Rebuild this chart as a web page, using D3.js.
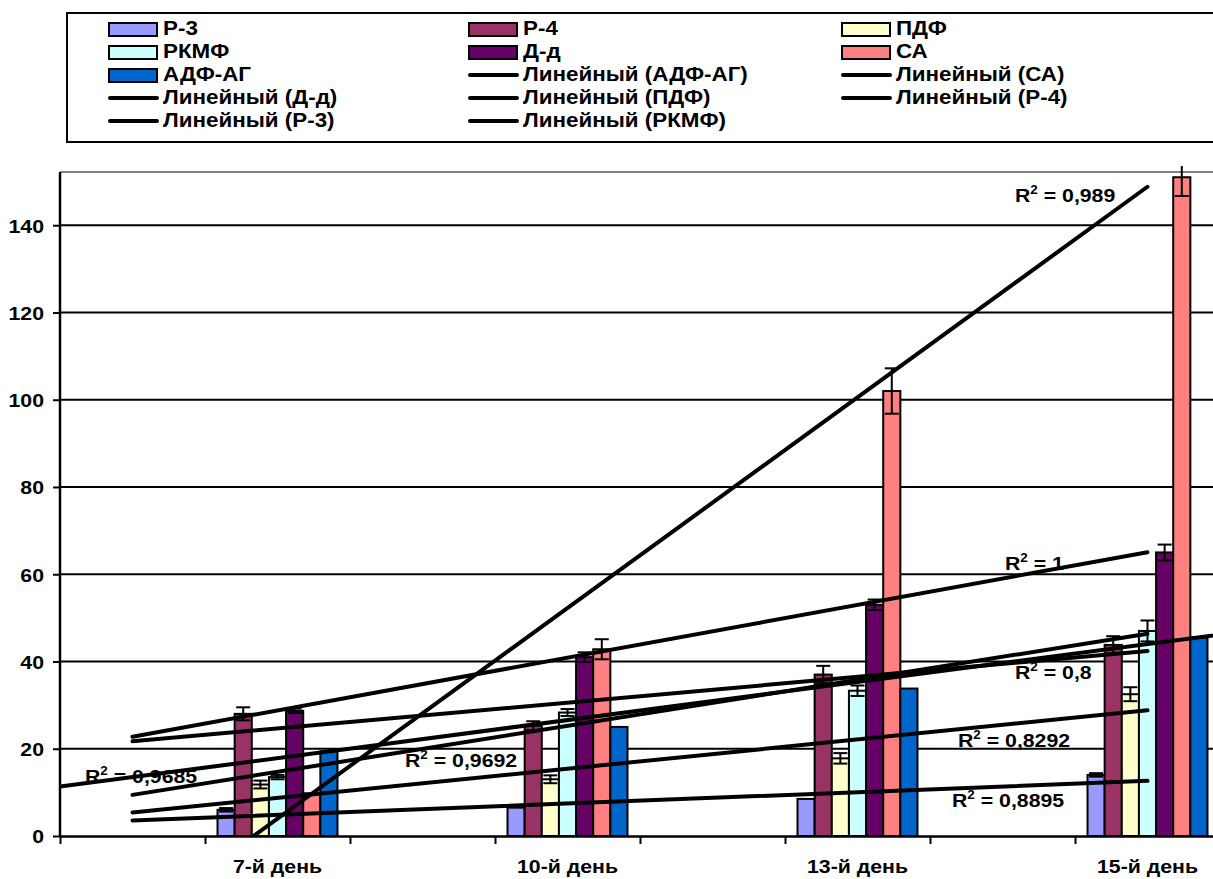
<!DOCTYPE html>
<html>
<head>
<meta charset="utf-8">
<script src="https://d3js.org/d3.v7.min.js"></script>
<style>
    body { margin: 0; background: #fff; }
    #chart-area { width: 1213px; height: 879px; }
    text { font-family: "Liberation Sans", Arial, sans-serif; font-weight: bold; fill: #000; }
</style>
</head>
<body>
<div id="chart-area"></div>
<script>

// categories on the x axis (blank categories sit between them)
let categories = ["7-й день", "10-й день", "13-й день", "15-й день"];
let catIndex = [2, 4, 6, 8];

// series names and colours
let seriesNames = ["Р-3", "Р-4", "ПДФ", "РКМФ", "Д-д", "СА", "АДФ-АГ"];
let seriesColors = ["#9999FF", "#993366", "#FFFFCC", "#CCFFFF", "#660066", "#FF8080", "#0066CC"];

// values per series
let valР3 = [6.0, 6.5, 8.5, 14.0];
let valР4 = [28.0, 25.3, 37.0, 43.8];
let valПДФ = [11.8, 13.0, 17.8, 32.5];
let valРКМФ = [13.5, 28.3, 33.3, 47.0];
let valДд = [28.7, 41.0, 53.0, 65.0];
let valСА = [9.8, 42.8, 102.0, 151.0];
let valАДФ = [19.4, 25.0, 33.8, 45.5];

// error bar sizes (+/-)
let errР3 = [0.4, 0, 0, 0.4];
let errР4 = [1.5, 1.0, 2.0, 2.0];
let errПДФ = [0.9, 0.9, 1.2, 1.6];
let errРКМФ = [0.5, 0.8, 1.2, 2.4];
let errДд = [0.5, 1.1, 1.2, 1.8];
let errСА = [0, 2.3, 5.2, 4.3];
let errАДФ = [0, 0, 0, 0];

// R squared labels of the linear trendlines
let r2Text = ["0,8895", "0,8", "0,8292", "0,9692", "1", "0,989", "0,9685"];

// legend order of the trendlines
let trendOrder = ["АДФ-АГ", "СА", "Д-д", "ПДФ", "Р-4", "Р-3", "РКМФ"];

// y ticks
let yTicks = [0, 20, 40, 60, 80, 100, 120, 140];


class ChartVis {

    constructor(parentElement) {
        this.parentElement = parentElement;
        this.values = [valР3, valР4, valПДФ, valРКМФ, valДд, valСА, valАДФ];
        this.errors = [errР3, errР4, errПДФ, errРКМФ, errДд, errСА, errАДФ];
        this.initVis();
    }

    initVis() {
        let vis = this;

        vis.width = 1213;
        vis.height = 879;
        vis.plot = {left: 60, right: 1220, top: 172, bottom: 836};
        vis.sx = 1.12;   // text looks a bit stretched sideways

        vis.svg = d3.select("#" + vis.parentElement).append("svg")
            .attr("width", vis.width)
            .attr("height", vis.height);

        // scales
        vis.x = d3.scaleLinear().domain([0.5, 8.5]).range([vis.plot.left, vis.plot.right]);
        vis.y = d3.scaleLinear().domain([0, 152.2]).range([vis.plot.bottom, vis.plot.top]);

        vis.catW = vis.x(1) - vis.x(0);
        vis.barW = vis.catW / (seriesNames.length + 1.46);
        vis.inner = d3.scaleBand()
            .domain(seriesNames)
            .range([-vis.barW * seriesNames.length / 2, vis.barW * seriesNames.length / 2]);

        // clip for trendlines
        vis.svg.append("clipPath").attr("id", "plot-clip")
            .append("rect")
            .attr("x", vis.plot.left).attr("y", vis.plot.top)
            .attr("width", vis.plot.right - vis.plot.left)
            .attr("height", vis.plot.bottom - vis.plot.top);

        // error bars may poke a little above the plot
        vis.svg.append("clipPath").attr("id", "err-clip")
            .append("rect")
            .attr("x", vis.plot.left).attr("y", vis.plot.top - 6)
            .attr("width", vis.plot.right - vis.plot.left)
            .attr("height", vis.plot.bottom - vis.plot.top + 6);

        vis.wrangleData();
    }

    wrangleData() {
        let vis = this;

        vis.series = seriesNames.map((name, i) => {
            let pts = catIndex.map((c, j) => ({x: c, v: vis.values[i][j], e: vis.errors[i][j], name: name}));

            // least squares fit on the category index
            let mx = d3.mean(pts, d => d.x), my = d3.mean(pts, d => d.v);
            let slope = d3.sum(pts, d => (d.x - mx) * (d.v - my)) / d3.sum(pts, d => (d.x - mx) ** 2);
            let icpt = my - slope * mx;

            // АДФ-АГ trendline has forecast periods
            let x0 = name === "АДФ-АГ" ? 0.5 : 1;
            let x1 = name === "АДФ-АГ" ? 9.5 : 8;

            return {name: name, color: seriesColors[i], pts: pts, r2: r2Text[i],
                    trend: [{x: x0, v: icpt + slope * x0}, {x: x1, v: icpt + slope * x1}]};
        });

        vis.updateVis();
    }

    stretch(sel) {
        let vis = this;
        sel.attr("transform", function () {
            let x = +this.getAttribute("x") || 0;
            return `translate(${x * (1 - vis.sx)},0) scale(${vis.sx},1)`;
        });
    }

    updateVis() {
        let vis = this;

        // gridlines
        vis.svg.append("g")
            .selectAll("line")
            .data(yTicks.filter(d => d > 0))
            .enter().append("line")
            .attr("x1", vis.plot.left).attr("x2", vis.plot.right)
            .attr("y1", d => vis.y(d)).attr("y2", d => vis.y(d))
            .attr("stroke", "#000").attr("stroke-width", 2);

        // plot area top border
        vis.svg.append("line")
            .attr("x1", vis.plot.left).attr("x2", vis.plot.right)
            .attr("y1", vis.plot.top).attr("y2", vis.plot.top)
            .attr("stroke", "#808080").attr("stroke-width", 2);

        // bars
        let groups = vis.svg.append("g").selectAll("g.series")
            .data(vis.series)
            .enter().append("g").attr("class", "series");

        groups.selectAll("rect")
            .data(d => d.pts.map(p => Object.assign({color: d.color}, p)))
            .enter().append("rect")
            .attr("x", d => vis.x(d.x) + vis.inner(d.name))
            .attr("y", d => vis.y(d.v))
            .attr("width", vis.inner.bandwidth())
            .attr("height", d => vis.y(0) - vis.y(d.v))
            .attr("fill", d => d.color)
            .attr("stroke", "#000").attr("stroke-width", 2);

        // error bars
        let errs = [];
        vis.series.forEach(s => s.pts.forEach(p => { if (p.e > 0) errs.push(p); }));
        let eb = vis.svg.append("g")
            .attr("clip-path", "url(#err-clip)")
            .selectAll("g")
            .data(errs)
            .enter().append("g")
            .attr("stroke", "#000").attr("stroke-width", 2);
        let cx = d => vis.x(d.x) + vis.inner(d.name) + vis.inner.bandwidth() / 2;
        eb.append("line")
            .attr("x1", cx).attr("x2", cx)
            .attr("y1", d => vis.y(d.v - d.e)).attr("y2", d => vis.y(d.v + d.e));
        [1, -1].forEach(sgn => {
            eb.append("line")
                .attr("x1", d => cx(d) - 7).attr("x2", d => cx(d) + 7)
                .attr("y1", d => vis.y(d.v + sgn * d.e)).attr("y2", d => vis.y(d.v + sgn * d.e));
        });

        // y axis
        let yAxis = vis.svg.append("g")
            .attr("transform", `translate(${vis.plot.left},0)`)
            .call(d3.axisLeft(vis.y).tickValues(yTicks).tickSize(7).tickPadding(9).tickSizeOuter(0));
        yAxis.select(".domain").attr("stroke", "#000").attr("stroke-width", 2.5)
            .attr("d", `M0,${vis.plot.top}V${vis.plot.bottom}`);
        yAxis.selectAll(".tick line").attr("stroke", "#000").attr("stroke-width", 2);
        yAxis.selectAll(".tick text").attr("font-size", 19).attr("font-family", null)
            .attr("dy", "0.36em").call(s => vis.stretch(s));

        // x axis
        let xAxis = vis.svg.append("g")
            .attr("transform", `translate(0,${vis.plot.bottom})`)
            .call(d3.axisBottom(vis.x).tickValues(d3.range(0.5, 9, 1)).tickSize(8).tickFormat("").tickSizeOuter(0));
        xAxis.select(".domain").attr("stroke", "#000").attr("stroke-width", 2.5);
        xAxis.selectAll(".tick line").attr("stroke", "#000").attr("stroke-width", 2);

        vis.svg.append("g").selectAll("text")
            .data(categories)
            .enter().append("text")
            .attr("x", (d, i) => vis.x(catIndex[i]))
            .attr("y", 873)
            .attr("text-anchor", "middle")
            .attr("font-size", 19)
            .text(d => d)
            .call(s => vis.stretch(s));

        // trendlines
        let line = d3.line().x(d => vis.x(d.x)).y(d => vis.y(d.v));
        vis.svg.append("g")
            .attr("clip-path", "url(#plot-clip)")
            .selectAll("path")
            .data(vis.series)
            .enter().append("path")
            .attr("d", d => line(d.trend))
            .attr("fill", "none")
            .attr("stroke", "#000").attr("stroke-width", 4)
            .attr("stroke-linecap", "round");

        // R squared labels, placed where the chart has them
        let r2Pos = {"Р-3": [952, 807], "Р-4": [1015, 679], "ПДФ": [958, 747], "РКМФ": [405, 767],
                     "Д-д": [1005, 570], "СА": [1015, 202], "АДФ-АГ": [85, 783]};
        let r2 = vis.svg.append("g").selectAll("text")
            .data(vis.series)
            .enter().append("text")
            .attr("x", d => r2Pos[d.name][0])
            .attr("y", d => r2Pos[d.name][1])
            .attr("font-size", 19);
        r2.append("tspan").text("R");
        r2.append("tspan").attr("font-size", 12).attr("dy", -8).text("2");
        r2.append("tspan").attr("dy", 8).text(d => " = " + d.r2);
        r2.call(s => vis.stretch(s));

        // legend
        let lg = vis.svg.append("g");
        lg.append("rect")
            .attr("x", 67).attr("y", 13).attr("width", 1150).attr("height", 129)
            .attr("fill", "#fff").attr("stroke", "#000").attr("stroke-width", 2);

        let items = vis.series.map(s => ({type: "bar", label: s.name, color: s.color}))
            .concat(trendOrder.map(n => ({type: "line", label: "Линейный (" + n + ")"})));
        let colX = [109, 469, 842];

        let li = lg.selectAll("g.item")
            .data(items)
            .enter().append("g").attr("class", "item")
            .attr("transform", (d, i) => `translate(${colX[i % 3]},${35 + Math.floor(i / 3) * 23})`);

        li.filter(d => d.type === "bar").append("rect")
            .attr("x", 0).attr("y", -12).attr("width", 48).attr("height", 13)
            .attr("fill", d => d.color).attr("stroke", "#000").attr("stroke-width", 2);
        li.filter(d => d.type === "line").append("line")
            .attr("x1", 1).attr("x2", 48).attr("y1", -6).attr("y2", -6)
            .attr("stroke", "#000").attr("stroke-width", 4).attr("stroke-linecap", "round");
        li.append("text")
            .attr("x", 54).attr("y", 0)
            .attr("font-size", 20)
            .text(d => d.label)
            .call(s => vis.stretch(s));
    }
}

new ChartVis("chart-area");

</script>
</body>
</html>
